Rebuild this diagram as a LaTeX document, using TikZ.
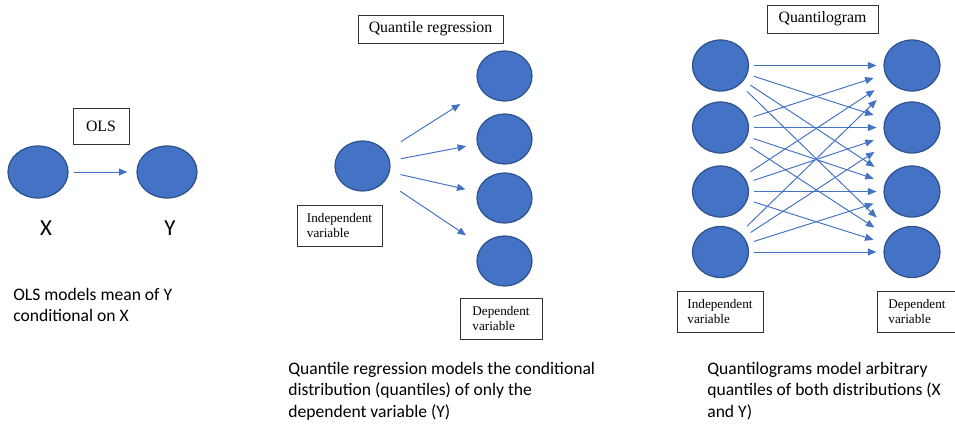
\documentclass[tikz,border=0pt]{standalone}
\usepackage{fontspec}
\setmainfont{Liberation Serif}
\newfontfamily\calibri{Carlito}
\usetikzlibrary{shapes, arrows.meta, positioning}
\definecolor{officeblue}{HTML}{4472C4}
\definecolor{edgeblue}{HTML}{2F528F}

\begin{document}
\begin{tikzpicture}[
		bubble/.style = {draw=edgeblue, fill=officeblue, ellipse, line width=0.7pt, minimum width=1.12cm, minimum height=1.02cm, inner sep=0pt},
		% Cajas con el nombre del modelo
		title_box/.style = {draw=black!80, rectangle, line width=0.5pt, minimum height=0.56cm, font=\fontsize{9}{10}\selectfont},
		var_box/.style = {draw=black!80, rectangle, line width=0.5pt, minimum width=1.7cm, minimum height=0.82cm, align=left, font=\fontsize{7.5}{8.6}\selectfont},
		note/.style = {anchor=north west, inner sep=0pt, align=left, font=\calibri\fontsize{10}{12.2}\selectfont},
		link/.style = {draw=officeblue, line width=0.55pt, ->},
		>={Triangle[length=1.7mm, width=1.4mm]}
		]
		\useasboundingbox (0,0) rectangle (19.1,8.48);
		
		% --- 1. OLS ---
		\node [bubble, minimum width=1.2cm, minimum height=1.04cm] (ols_x) at (0.76, 5.04) {};
		\node [bubble, minimum width=1.2cm, minimum height=1.04cm] (ols_y) at (3.34, 5.04) {};
		\node [title_box, minimum width=1.12cm, minimum height=0.72cm] (ols) at (2.02, 5.96) {OLS};
		\node [font=\calibri\fontsize{13}{15}\selectfont] (x_lab) at (0.92, 3.92) {X};
		\node [font=\calibri\fontsize{13}{15}\selectfont] (y_lab) at (3.40, 3.92) {Y};
		\draw [link, shorten <=0.1cm, shorten >=0.18cm] (ols_x) -- (ols_y);
		\node [note] (ols_note) at (0.26, 2.72) {OLS models mean of Y\\conditional on X};
		
		% --- 2. REGRESION CUANTILICA ---
		\node [title_box, minimum width=2.9cm] (qr) at (8.61, 7.90) {Quantile regression};
		\node [bubble, minimum width=1.1cm, minimum height=1.0cm] (qr_x) at (7.25, 5.16) {};
		\node [bubble, minimum width=1.1cm, minimum height=1.0cm] (qr_y1) at (10.09, 6.96) {};
		\node [bubble, minimum width=1.1cm, minimum height=1.0cm] (qr_y2) at (10.09, 5.70) {};
		\node [bubble, minimum width=1.1cm, minimum height=1.0cm] (qr_y3) at (10.09, 4.52) {};
		\node [bubble, minimum width=1.1cm, minimum height=1.0cm] (qr_y4) at (10.09, 3.26) {};
		\node [var_box] (qr_in) at (6.79, 3.97) {Independent\\variable};
		\node [var_box, minimum width=1.64cm] (qr_out) at (10.02, 2.11) {Dependent\\variable};
		
		\foreach \j/\s/\e in {1/0.36/0.5, 2/0.22/0.22, 3/0.22/0.24, 4/0.36/0.38}
			\draw [link, shorten <=\s cm, shorten >=\e cm] (qr_x) -- (qr_y\j);
		
		\node [note] (qr_note) at (5.76, 1.24) {Quantile regression models the conditional\\distribution (quantiles) of only the\\dependent variable (Y)};
		
		% --- 3. CUANTILOGRAMA ---
		\node [title_box, minimum width=2.22cm] (qg) at (16.45, 8.10) {Quantilogram};
		\foreach \i/\y in {1/7.17, 2/5.93, 3/4.65, 4/3.44} {
			\node [bubble] (qg_x\i) at (14.41, \y) {};
			\node [bubble] (qg_y\i) at (18.24, \y) {};
		}
		\node [var_box, minimum width=1.72cm] (qg_in) at (14.40, 2.25) {Independent\\variable};
		\node [var_box, minimum width=1.6cm] (qg_out) at (18.34, 2.25) {Dependent\\variable};
		
		% todas las combinaciones X -> Y
		\foreach \i in {1,...,4} {
			\foreach \j in {1,...,4} {
				\pgfmathsetmacro\sa{0.1+0.03*abs(\i-\j)}
				\pgfmathsetmacro\sb{0.14+0.1*abs(\i-\j)}
				\draw [link, shorten <=\sa cm, shorten >=\sb cm] (qg_x\i) -- (qg_y\j);
			}
		}
		
		\node [note] (qg_note) at (14.14, 1.24) {Quantilograms model arbitrary\\quantiles of both distributions (X\\and Y)};
		
	\end{tikzpicture}
\end{document}
